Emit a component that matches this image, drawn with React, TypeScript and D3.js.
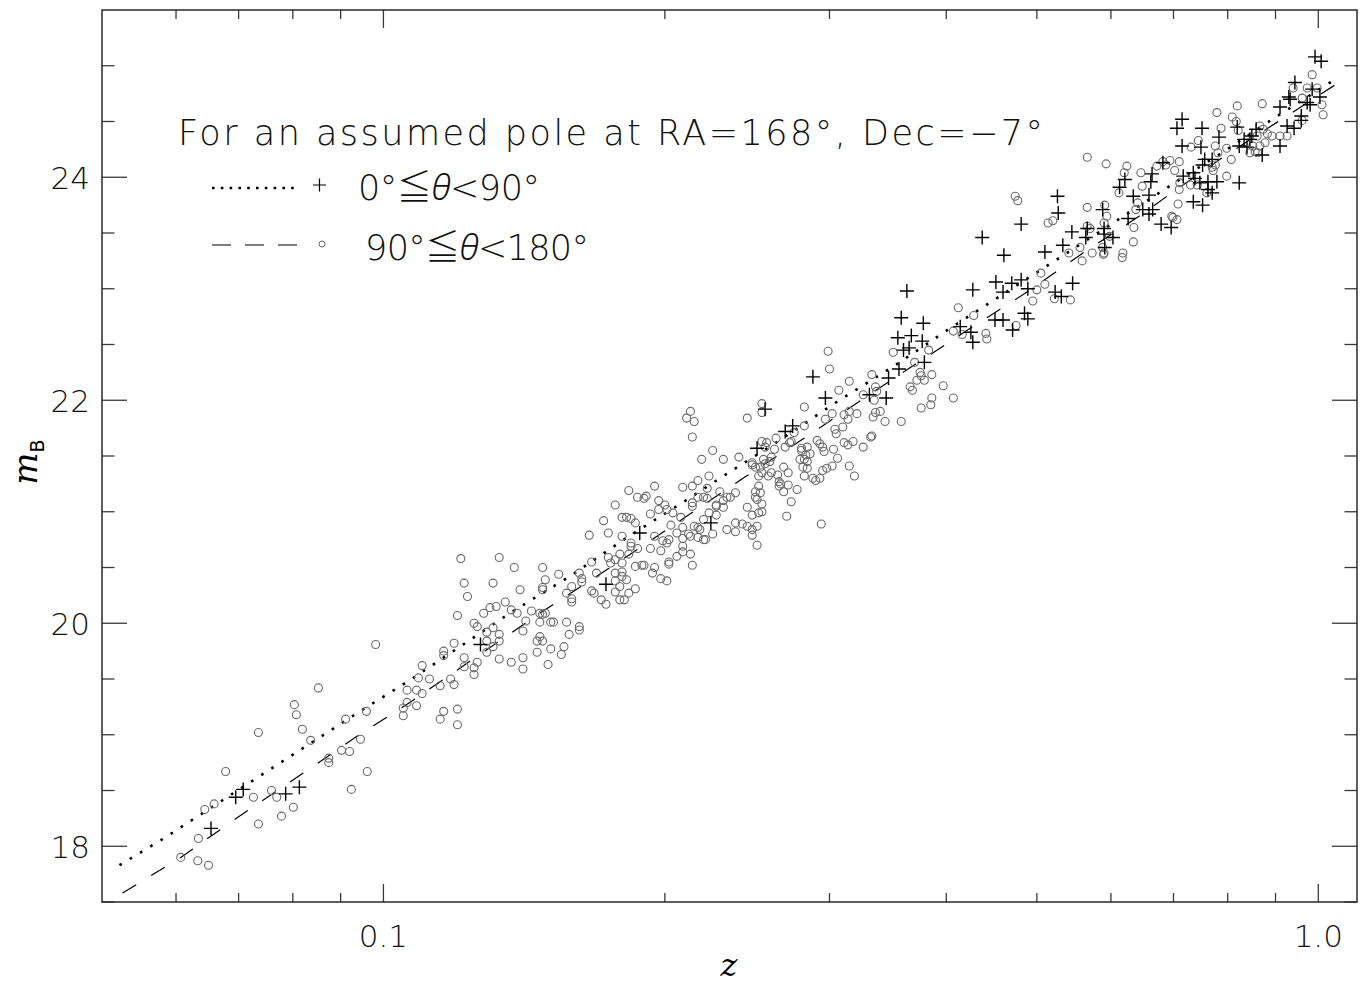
import React from 'react';
import * as d3 from 'd3';

const W = 1366;
const H = 988;
const margin = { top: 10, right: 9, bottom: 86, left: 102 };

// axis ticks
const zDomain = [0.05, 1.1];
const mDomain = [17.5, 25.5];
const zMajor = [0.1, 1.0];
const zMajorLabels = ['0.1', '1.0'];
const zMinor = [0.06, 0.07, 0.08, 0.09, 0.2, 0.3, 0.4, 0.5, 0.6, 0.7, 0.8, 0.9];
const mMajor = [18, 20, 22, 24];
const mMinor = [17.5, 18.5, 19, 19.5, 20.5, 21, 21.5, 22.5, 23, 23.5, 24.5, 25];

// fitted curves [z, m]
const lineNear = [
  [0.0522, 17.83], [0.0582, 18.07], [0.0707, 18.53], [0.0838, 18.93], [0.0948, 19.22],
  [0.1072, 19.5], [0.1183, 19.74], [0.1365, 20.09], [0.1582, 20.42], [0.183, 20.78],
  [0.2123, 21.12], [0.228, 21.29], [0.2642, 21.63], [0.3047, 21.98], [0.3552, 22.33],
  [0.3995, 22.62], [0.4737, 23.02], [0.536, 23.31], [0.6185, 23.65], [0.699, 23.94],
  [0.789, 24.22], [0.893, 24.52], [1.034, 24.86],
];
const lineFar = [
  [0.0526, 17.58], [0.0607, 17.9], [0.0707, 18.29], [0.0809, 18.62], [0.0931, 18.97],
  [0.1067, 19.29], [0.1143, 19.46], [0.147, 20.09], [0.183, 20.61], [0.2445, 21.32],
  [0.2807, 21.65], [0.3216, 21.98], [0.3702, 22.32], [0.4271, 22.66], [0.488, 22.97],
  [0.56, 23.32], [0.643, 23.65], [0.689, 23.83], [0.791, 24.18], [0.906, 24.5],
  [1.052, 24.85],
];

// 0 <= theta < 90 (plus)
const nearSN = [
  [0.0654, 18.16], [0.0695, 18.44], [0.0708, 18.51], [0.0786, 18.47], [0.0813, 18.53],
  [0.127, 19.81], [0.173, 20.35], [0.188, 20.81], [0.224, 20.9],
  [0.363, 22.98], [0.427, 22.99], [0.358, 22.74], [0.378, 22.69], [0.367, 22.58], [0.355, 22.56],
  [0.377, 22.53], [0.36, 22.45], [0.365, 22.47], [0.379, 22.34], [0.356, 22.28], [0.347, 22.2],
  [0.288, 22.21], [0.331, 22.05], [0.345, 22.02], [0.297, 22.02], [0.256, 21.92], [0.274, 21.77],
  [0.269, 21.72], [0.251, 21.57], [0.414, 22.66], [0.425, 22.61], [0.427, 22.52],
  [0.526, 23.83], [0.527, 23.68], [0.481, 23.58], [0.437, 23.46], [0.461, 23.3], [0.51, 23.33],
  [0.533, 23.39], [0.545, 23.51], [0.566, 23.54], [0.564, 23.46], [0.59, 23.54], [0.59, 23.49],
  [0.588, 23.71], [0.603, 23.46], [0.591, 23.37], [0.621, 23.98], [0.613, 23.91], [0.634, 23.83],
  [0.659, 23.84], [0.664, 24.03], [0.662, 23.96], [0.626, 23.63], [0.649, 23.71], [0.659, 23.67],
  [0.679, 23.58], [0.696, 23.55], [0.715, 24.28], [0.735, 24.04], [0.735, 23.78], [0.682, 24.13],
  [0.452, 23.06], [0.46, 22.97], [0.47, 23.05], [0.481, 23.08], [0.489, 23.0], [0.523, 22.97],
  [0.531, 22.93], [0.546, 23.05], [0.451, 22.72], [0.46, 22.72], [0.485, 22.78], [0.489, 22.73],
  [0.471, 22.63],
  [0.992, 25.08], [1.007, 25.04], [0.944, 24.85], [0.93, 24.72], [0.933, 24.7], [0.985, 24.79],
  [1.004, 24.72], [0.973, 24.67], [0.98, 24.65], [0.91, 24.63], [0.959, 24.55], [0.959, 24.51],
  [0.926, 24.46], [0.942, 24.44], [0.91, 24.28], [0.871, 24.2], [0.845, 24.34], [0.833, 24.34],
  [0.823, 24.28], [0.819, 24.45], [0.858, 24.43], [0.849, 24.37], [0.839, 24.27], [0.715, 24.52],
  [0.706, 24.44], [0.751, 24.44], [0.783, 24.36], [0.749, 24.27], [0.756, 24.16], [0.77, 24.16],
  [0.752, 24.11], [0.717, 24.01], [0.738, 23.99], [0.747, 23.95], [0.762, 23.96], [0.779, 23.96],
  [0.762, 23.89], [0.77, 23.86], [0.823, 23.95], [0.752, 23.75], [0.665, 23.71],
];

// 90 <= theta < 180 (circle)
const farSN = [
  [0.12, 20.07], [0.119, 19.82], [0.0981, 19.81], [0.116, 19.75], [0.116, 19.71], [0.11, 19.62],
  [0.109, 19.51], [0.112, 19.5], [0.118, 19.5], [0.119, 19.45], [0.115, 19.44], [0.0852, 19.42],
  [0.106, 19.4], [0.1085, 19.4], [0.11, 19.37], [0.0803, 19.27], [0.106, 19.29], [0.105, 19.24],
  [0.1085, 19.26], [0.12, 19.23], [0.0807, 19.18], [0.0959, 19.21], [0.105, 19.17], [0.116, 19.21],
  [0.115, 19.14], [0.0911, 19.14], [0.12, 19.09], [0.0819, 19.05], [0.0735, 19.02], [0.0836, 18.95],
  [0.0945, 18.96], [0.0902, 18.86], [0.092, 18.85], [0.0874, 18.79], [0.0874, 18.75], [0.0678, 18.67],
  [0.0961, 18.67], [0.0924, 18.51], [0.0759, 18.5], [0.0726, 18.44], [0.0769, 18.44], [0.0801, 18.35],
  [0.0644, 18.33], [0.0659, 18.38], [0.0778, 18.27], [0.0735, 18.2], [0.0634, 18.07], [0.0607, 17.9],
  [0.0633, 17.87], [0.065, 17.83],
  [0.213, 21.9], [0.211, 21.84], [0.215, 21.81], [0.214, 21.67], [0.225, 21.55], [0.219, 21.47],
  [0.217, 21.28], [0.223, 21.32], [0.209, 21.22], [0.214, 21.23], [0.195, 21.23], [0.183, 21.19],
  [0.187, 21.13], [0.19, 21.12], [0.191, 21.14], [0.222, 21.21], [0.22, 21.13], [0.217, 21.13],
  [0.222, 21.12], [0.214, 21.08], [0.214, 21.05], [0.197, 21.1], [0.2, 21.06], [0.201, 21.02],
  [0.197, 21.02], [0.177, 21.06], [0.193, 20.98], [0.204, 20.99], [0.208, 20.95], [0.223, 20.99],
  [0.227, 21.06], [0.18, 20.95], [0.182, 20.95], [0.184, 20.94], [0.172, 20.92], [0.186, 20.9],
  [0.203, 20.88], [0.209, 20.86], [0.215, 20.87], [0.217, 20.86], [0.218, 20.84], [0.174, 20.81],
  [0.206, 20.81], [0.212, 20.8], [0.195, 20.78], [0.199, 20.74], [0.202, 20.75], [0.209, 20.76],
  [0.213, 20.78], [0.217, 20.77], [0.221, 20.75], [0.225, 20.8], [0.166, 20.79], [0.18, 20.78],
  [0.184, 20.72], [0.184, 20.69], [0.187, 20.67], [0.193, 20.67], [0.198, 20.65], [0.201, 20.72],
  [0.209, 20.69], [0.209, 20.64], [0.213, 20.62], [0.206, 20.6], [0.202, 20.55], [0.202, 20.53],
  [0.214, 20.52], [0.186, 20.51], [0.189, 20.52], [0.19, 20.52], [0.195, 20.5], [0.194, 20.45],
  [0.198, 20.4], [0.201, 20.38], [0.174, 20.59], [0.179, 20.62], [0.183, 20.62], [0.177, 20.57],
  [0.18, 20.54], [0.175, 20.54], [0.169, 20.45], [0.177, 20.45], [0.18, 20.46], [0.18, 20.42],
  [0.182, 20.39], [0.177, 20.38], [0.179, 20.33], [0.177, 20.28], [0.186, 20.31], [0.183, 20.27],
  [0.181, 20.21], [0.179, 20.21], [0.171, 20.21], [0.173, 20.17], [0.167, 20.55], [0.162, 20.45],
  [0.163, 20.4], [0.163, 20.37], [0.167, 20.29], [0.168, 20.27], [0.157, 20.27], [0.159, 20.33],
  [0.159, 20.22], [0.159, 20.19], [0.154, 20.44], [0.148, 20.5], [0.149, 20.39], [0.148, 20.3],
  [0.148, 20.32], [0.144, 20.11], [0.147, 20.09], [0.149, 20.09], [0.148, 20.08], [0.151, 20.01],
  [0.152, 20.01], [0.157, 20.01], [0.158, 19.9], [0.162, 19.97], [0.162, 19.94], [0.156, 19.79],
  [0.155, 19.72], [0.151, 19.77], [0.15, 19.63], [0.147, 19.88], [0.146, 19.84], [0.148, 19.84],
  [0.146, 19.74], [0.147, 20.01], [0.142, 20.02], [0.141, 19.93], [0.141, 19.69], [0.141, 19.59],
  [0.137, 19.65], [0.133, 19.68], [0.14, 20.3], [0.138, 20.5], [0.133, 20.59], [0.131, 20.36],
  [0.123, 20.24], [0.122, 20.36], [0.121, 20.58], [0.135, 20.19], [0.132, 20.15], [0.13, 20.14],
  [0.128, 20.09], [0.137, 20.12], [0.139, 20.09], [0.131, 19.96], [0.133, 19.9], [0.129, 19.92],
  [0.126, 19.97], [0.125, 20.0], [0.129, 19.84], [0.133, 19.84], [0.129, 19.74], [0.131, 19.79],
  [0.122, 19.69], [0.126, 19.65], [0.125, 19.6], [0.125, 19.54], [0.122, 19.61],
  [0.299, 22.44], [0.3, 22.28], [0.412, 22.83], [0.428, 22.76], [0.407, 22.62], [0.416, 22.59],
  [0.383, 22.45], [0.351, 22.43], [0.37, 22.34], [0.375, 22.25], [0.376, 22.22], [0.372, 22.18],
  [0.379, 22.18], [0.386, 22.23], [0.366, 22.12], [0.368, 22.09], [0.397, 22.13], [0.407, 22.02],
  [0.386, 22.02], [0.385, 21.96], [0.376, 21.93], [0.358, 21.81], [0.344, 21.81], [0.333, 22.23],
  [0.336, 22.12], [0.337, 22.08], [0.326, 22.05], [0.335, 22.0], [0.315, 22.17], [0.307, 22.09],
  [0.34, 21.9], [0.336, 21.89], [0.334, 21.85], [0.321, 21.88], [0.315, 21.9], [0.311, 21.87],
  [0.314, 21.83], [0.302, 21.88], [0.297, 21.83], [0.31, 21.76], [0.304, 21.74], [0.305, 21.7],
  [0.333, 21.68], [0.332, 21.67], [0.326, 21.58], [0.318, 21.63], [0.311, 21.62], [0.314, 21.6],
  [0.303, 21.56], [0.306, 21.48], [0.282, 21.94], [0.282, 21.77], [0.275, 21.71], [0.273, 21.63],
  [0.291, 21.64], [0.293, 21.61], [0.295, 21.58], [0.296, 21.54], [0.284, 21.58], [0.28, 21.57],
  [0.28, 21.55], [0.283, 21.51], [0.286, 21.52], [0.282, 21.47], [0.284, 21.45], [0.279, 21.47],
  [0.281, 21.4], [0.284, 21.39], [0.282, 21.32], [0.288, 21.3], [0.29, 21.28], [0.293, 21.3],
  [0.295, 21.37], [0.298, 21.39], [0.302, 21.41], [0.315, 21.41], [0.319, 21.32], [0.294, 20.89],
  [0.254, 21.97], [0.254, 21.89], [0.245, 21.84], [0.254, 21.63], [0.257, 21.62], [0.256, 21.58],
  [0.263, 21.66], [0.272, 21.62], [0.269, 21.58], [0.262, 21.56], [0.26, 21.49], [0.259, 21.45],
  [0.255, 21.47], [0.256, 21.43], [0.253, 21.4], [0.248, 21.42], [0.248, 21.44], [0.25, 21.4],
  [0.24, 21.49], [0.231, 21.47], [0.268, 21.4], [0.271, 21.35], [0.264, 21.33], [0.26, 21.35],
  [0.258, 21.32], [0.254, 21.35], [0.252, 21.32], [0.265, 21.27], [0.266, 21.25], [0.265, 21.23],
  [0.271, 21.24], [0.268, 21.18], [0.277, 21.2], [0.273, 21.09], [0.252, 21.23], [0.253, 21.17],
  [0.25, 21.18], [0.25, 21.13], [0.251, 21.11], [0.254, 21.07], [0.254, 21.0], [0.252, 20.99],
  [0.245, 21.04], [0.248, 20.97], [0.27, 20.96], [0.238, 21.17], [0.235, 21.13], [0.233, 21.13],
  [0.231, 21.1], [0.231, 21.04], [0.227, 21.05], [0.227, 20.97], [0.229, 21.18], [0.22, 20.93],
  [0.242, 20.89], [0.238, 20.9], [0.238, 20.82], [0.233, 20.84], [0.245, 20.87], [0.251, 20.87],
  [0.248, 20.84], [0.248, 20.79], [0.251, 20.7], [0.22, 20.75],
  [0.566, 24.18], [0.593, 24.12], [0.624, 24.1], [0.62, 24.04], [0.646, 24.04], [0.612, 23.86],
  [0.648, 23.92], [0.672, 24.1], [0.682, 24.14], [0.694, 24.15], [0.71, 24.14], [0.702, 24.06],
  [0.711, 23.95], [0.71, 23.89], [0.708, 23.76], [0.73, 23.93], [0.744, 24.33], [0.731, 24.27],
  [0.474, 23.83], [0.477, 23.79], [0.566, 23.73], [0.591, 23.75], [0.594, 23.65], [0.59, 23.59],
  [0.641, 23.77], [0.638, 23.71], [0.635, 23.55], [0.634, 23.42], [0.699, 23.64], [0.706, 23.62],
  [0.57, 23.54], [0.566, 23.56], [0.514, 23.59], [0.52, 23.61], [0.598, 23.47], [0.588, 23.37],
  [0.59, 23.32], [0.589, 23.31], [0.556, 23.37], [0.541, 23.32], [0.573, 23.32], [0.559, 23.25],
  [0.618, 23.32], [0.617, 23.28], [0.505, 23.14], [0.51, 23.04], [0.5, 22.99], [0.495, 22.89],
  [0.522, 22.91], [0.543, 22.9], [0.441, 22.6], [0.442, 22.55], [0.475, 22.67],
  [0.985, 24.92], [0.997, 24.8], [0.973, 24.8], [0.94, 24.8], [0.961, 24.71], [1.009, 24.65],
  [1.012, 24.56], [0.961, 24.51], [0.871, 24.66], [0.819, 24.64], [0.779, 24.58], [0.809, 24.54],
  [0.817, 24.5], [0.787, 24.44], [0.821, 24.42], [0.866, 24.46], [0.873, 24.43], [0.882, 24.39],
  [0.86, 24.37], [0.892, 24.37], [0.91, 24.37], [0.926, 24.37], [0.877, 24.31], [0.866, 24.28],
  [0.851, 24.28], [0.856, 24.23], [0.845, 24.22], [0.861, 24.22], [0.776, 24.28], [0.798, 24.26],
  [0.781, 24.22], [0.807, 24.16], [0.776, 24.11], [0.77, 24.09], [0.772, 24.06], [0.798, 24.01],
  [0.697, 23.65], [0.687, 24.11], [0.76, 23.86], [0.742, 23.93],
];

const title = 'For an assumed pole at RA=168°, Dec=−7°';

const FONT = "'DejaVu Sans', 'Liberation Sans', sans-serif";
const THETA_FONT = "'Noto Sans', 'DejaVu Sans', sans-serif";
const LEQ_FONT = "'Noto Sans CJK JP', 'DejaVu Sans', sans-serif";

export default function App() {
  const x = d3.scaleLog().domain(zDomain).range([margin.left, W - margin.right]);
  const y = d3.scaleLinear().domain(mDomain).range([H - margin.bottom, margin.top]);
  const line = d3.line<number[]>().x(d => x(d[0])).y(d => y(d[1]));

  const x0 = margin.left, x1 = W - margin.right;
  const y0 = margin.top, y1 = H - margin.bottom;
  const tickColor = '#3a3a3a';

  return (
    <svg width={W} height={H} style={{ position: 'absolute', left: 0, top: 0, background: '#fff' }}
      fontFamily={FONT}>
      <rect width={W} height={H} fill="#fff" />

      {/* curves */}
      <path d={line(lineNear) || ''} fill="none" stroke="#000" strokeWidth={2.6} strokeDasharray="2.6 9.4" />
      <path d={line(lineFar) || ''} fill="none" stroke="#000" strokeWidth={1.2} strokeDasharray="16 17.5" />

      {/* circles */}
      <g fill="none" stroke="#6a6a6a" strokeWidth={1.1}>
        {farSN.map((d, i) => <circle key={i} cx={x(d[0])} cy={y(d[1])} r={4} />)}
      </g>
      {/* pluses */}
      <g stroke="#000" strokeWidth={1.4}>
        {nearSN.map((d, i) => {
          const cx = x(d[0]), cy = y(d[1]);
          return <path key={i} d={`M${cx - 7},${cy}H${cx + 7}M${cx},${cy - 7}V${cy + 7}`} />;
        })}
      </g>

      {/* ticks */}
      <g stroke={tickColor} strokeWidth={1.3}>
        {zMajor.map(v => (
          <g key={'zM' + v}>
            <line x1={x(v)} x2={x(v)} y1={y1} y2={y1 - 18} />
            <line x1={x(v)} x2={x(v)} y1={y0} y2={y0 + 18} />
          </g>
        ))}
        {zMinor.map(v => (
          <g key={'zm' + v}>
            <line x1={x(v)} x2={x(v)} y1={y1} y2={y1 - 9} />
            <line x1={x(v)} x2={x(v)} y1={y0} y2={y0 + 9} />
          </g>
        ))}
        {mMajor.map(v => (
          <g key={'mM' + v}>
            <line x1={x0} x2={x0 + 25} y1={y(v)} y2={y(v)} />
            <line x1={x1} x2={x1 - 25} y1={y(v)} y2={y(v)} />
          </g>
        ))}
        {mMinor.map(v => (
          <g key={'mm' + v}>
            <line x1={x0} x2={x0 + 12.5} y1={y(v)} y2={y(v)} />
            <line x1={x1} x2={x1 - 12.5} y1={y(v)} y2={y(v)} />
          </g>
        ))}
      </g>
      <rect x={x0} y={y0} width={x1 - x0} height={y1 - y0} fill="none" stroke="#2a2a2a" strokeWidth={1.5} />

      {/* tick labels */}
      <g fontSize={31} fontWeight={200} fill="#111">
        {zMajor.map((v, i) => (
          <text key={'zl' + v} x={x(v)} y={y1 + 45} textAnchor="middle">{zMajorLabels[i]}</text>
        ))}
        {mMajor.map(v => (
          <text key={'ml' + v} x={90} y={y(v) + 12} textAnchor="end">{v}</text>
        ))}
      </g>

      {/* axis titles */}
      <text x={729} y={976} textAnchor="middle" fontFamily="'DejaVu Serif', serif" fontStyle="italic" fontSize={32}>z</text>
      <text transform="translate(37,462) rotate(-90)" textAnchor="middle" fontFamily="'DejaVu Serif', serif" fontSize={34}>
        <tspan fontStyle="italic">m</tspan>
        <tspan fontSize={19} dy={7} fontFamily={FONT}>B</tspan>
      </text>

      {/* legend */}
      <g fontSize={35} fontWeight={200} fill="#111">
        <text x={178} y={145} textLength={865} lengthAdjust="spacing">{title}</text>
        <line x1={212} x2={296} y1={188} y2={188} stroke="#000" strokeWidth={2.6} strokeDasharray="2.6 6.2" />
        <path d="M313,185H326M319.5,178.5V191.5" stroke="#000" strokeWidth={1.2} />
        <text x={358} y={200} textLength={182} lengthAdjust="spacing">
          0°<tspan fontFamily={LEQ_FONT} fontWeight={300}>≦</tspan><tspan fontFamily={THETA_FONT} fontStyle="italic" fontWeight={300}>θ</tspan>&lt;90°
        </text>
        <line x1={212} x2={297} y1={245} y2={245} stroke="#000" strokeWidth={1.2} strokeDasharray="19 14" />
        <circle cx={322} cy={244} r={3} fill="none" stroke="#6a6a6a" strokeWidth={1} />
        <text x={365} y={260} textLength={224} lengthAdjust="spacing">
          90°<tspan fontFamily={LEQ_FONT} fontWeight={300}>≦</tspan><tspan fontFamily={THETA_FONT} fontStyle="italic" fontWeight={300}>θ</tspan>&lt;180°
        </text>
      </g>
    </svg>
  );
}
